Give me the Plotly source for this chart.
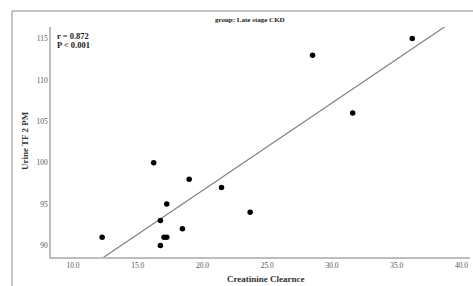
import numpy as np
import plotly.graph_objects as go

# Data
creatinine_clearance = [12.25, 16.23, 16.75, 16.75, 17.03, 17.24, 17.24, 18.45, 18.97, 21.47, 23.68, 28.5, 31.6, 36.2]
urine_tf_2pm = [91, 100, 90, 93, 91, 91, 95, 92, 98, 97, 94, 113, 106, 115]
x_ticks = [10, 15, 20, 25, 30, 35, 40]
y_ticks = [90, 95, 100, 105, 110, 115]
r_text = "r = 0.872"
p_text = "P < 0.001"
title_text = "group: Late stage CKD"
x_title = "Creatinine Clearnce"
y_title = "Urine TF 2 PM"

x_range = [8.3, 40.66]
y_range = [88.6, 116.4]

# Linear fit line
slope, intercept = np.polyfit(creatinine_clearance, urine_tf_2pm, 1)
fit_x = np.array(x_range)
fit_y = slope * fit_x + intercept

SERIF = "Liberation Serif, Times New Roman, serif"

fig = go.Figure()
fig.add_trace(go.Scatter(
    x=fit_x, y=fit_y, mode="lines",
    line=dict(color="#808080", width=1.2),
    hoverinfo="skip", showlegend=False,
))
fig.add_trace(go.Scatter(
    x=creatinine_clearance, y=urine_tf_2pm, mode="markers",
    marker=dict(color="black", size=5.5, line=dict(width=0)),
    showlegend=False,
))

axis_common = dict(
    showgrid=False, zeroline=False, ticks="",
    showline=True, linecolor="#bdbdbd", linewidth=1.5,
    tickfont=dict(family=SERIF, size=7.5, color="#555555"),
)

fig.update_layout(
    width=473, height=286,
    margin=dict(l=51, r=3, t=27, b=29, pad=0),
    paper_bgcolor="white", plot_bgcolor="white",
    xaxis=dict(range=x_range, tickvals=x_ticks,
               ticktext=[f"{v:.1f}" for v in x_ticks], **axis_common),
    yaxis=dict(range=y_range, tickvals=y_ticks, **axis_common),
    font=dict(family=SERIF),
)

bold = lambda s: f"<b>{s}</b>"
annotations = [
    dict(text=bold(title_text), x=0.475, y=1.03, font=dict(size=7, color="#222222"),
         xanchor="center", yanchor="middle"),
    dict(text=bold(x_title), x=0.513, y=-0.096, font=dict(size=9, color="#333333"),
         xanchor="center", yanchor="middle"),
    dict(text=bold(y_title), x=-0.062, y=0.504, textangle=-90, font=dict(size=9, color="#333333"),
         xanchor="center", yanchor="middle"),
    dict(text=bold(r_text), x=0.009, y=0.963, font=dict(size=8.5, color="#222222"),
         xanchor="left", yanchor="middle"),
    dict(text=bold(p_text), x=0.009, y=0.922, font=dict(size=8.5, color="#222222"),
         xanchor="left", yanchor="middle"),
]
for a in annotations:
    a.update(xref="paper", yref="paper", showarrow=False)
fig.update_layout(annotations=annotations)

# Outer frame
fig.add_shape(type="rect", xref="paper", yref="paper",
              x0=-0.0931, y0=-0.4, x1=1.2, y1=1.0696,
              line=dict(color="#8a8a8a", width=1), fillcolor="rgba(0,0,0,0)", layer="below")

fig.write_html(
    "out.html",
    config={"displayModeBar": False},
    post_script="document.body.style.margin='0';document.body.style.padding='0';",
)
